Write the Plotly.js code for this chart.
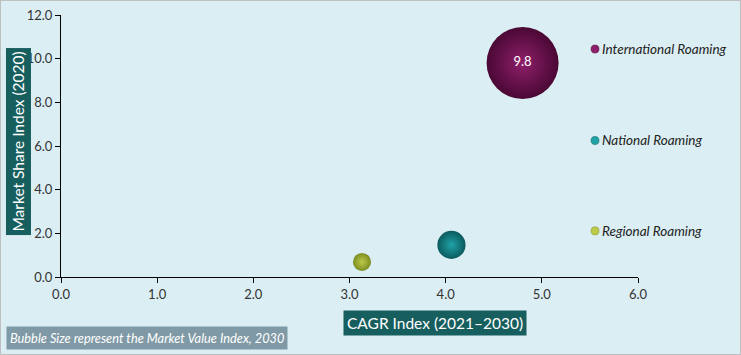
<!DOCTYPE html>
<html><head><meta charset="utf-8">
<script src="https://cdn.plot.ly/plotly-3.0.1.min.js"></script>
<style>html,body{margin:0;padding:0;background:#fff;}#wrap{width:739px;height:353px;border:1px solid #BFBFBF;}#chart{width:739px;height:353px;}</style>
</head><body><div id="wrap"><div id="chart"></div></div>
<script>
const seriesNames = ["International Roaming", "National Roaming", "Regional Roaming"];
const cagrIndex = [4.80, 4.06, 3.13];
const shareIndex = [9.8, 1.47, 0.69];
const valueIndex = [9.8, 1.5, 0.62];
const dataLabels = ["9.8", "", ""];
const colors = ["#8E1F6A", "#1FA3A6", "#BCCB4A"];
const edgeColors = ["#4A0834", "#0B5A5E", "#7C8C20"];
const xTicks = [0, 1, 2, 3, 4, 5, 6];
const yTicks = [0, 2, 4, 6, 8, 10, 12];

const FONT = "Lato, 'Liberation Sans', sans-serif";
const sizeref = 4 * 9.8 / (2 * 72 * 72);

const traces = seriesNames.map((n, i) => ({
  type: 'scatter', mode: 'markers+text', name: n,
  x: [cagrIndex[i]], y: [shareIndex[i]], text: [dataLabels[i]],
  textposition: 'middle center',
  textfont: {color: '#FFFFFF', size: 13, family: FONT},
  marker: {size: [valueIndex[i]], sizemode: 'area', sizeref: sizeref, opacity: 1,
    color: edgeColors[i], gradient: {type: 'radial', color: colors[i]},
    line: {width: 0}},
  showlegend: false, hoverinfo: 'skip'
}));

const legendY = [0.870, 0.521, 0.176];
const annotations = [];
const shapes = [];
seriesNames.forEach((n, i) => {
  annotations.push({xref: 'paper', yref: 'paper', x: 0.9335, y: legendY[i], xanchor: 'left', yanchor: 'middle',
    text: n, showarrow: false, font: {family: FONT, size: 13.5, color: '#222', style: 'italic'}});
  const cx = 0.9255, r = 4 / 577, ry = 4 / 261;
  shapes.push({type: 'circle', xref: 'paper', yref: 'paper', x0: cx - r, x1: cx + r, y0: legendY[i] - ry, y1: legendY[i] + ry,
    fillcolor: colors[i], line: {width: 0.5, color: edgeColors[i]}});
});
annotations.push({xref: 'paper', yref: 'paper', x: -0.0745, y: 0.517, xanchor: 'center', yanchor: 'middle', textangle: -90,
  text: 'Market Share Index (2020)', showarrow: false, bgcolor: '#175E5E', borderpad: 3,
  font: {family: FONT, size: 15.5, color: '#FFFFFF'}});
annotations.push({xref: 'paper', yref: 'paper', x: 0.648, y: -0.176, xanchor: 'center', yanchor: 'middle',
  text: 'CAGR Index (2021–2030)', showarrow: false, bgcolor: '#175E5E', borderpad: 3,
  font: {family: FONT, size: 15.5, color: '#FFFFFF'}});
annotations.push({xref: 'paper', yref: 'paper', x: -0.0953, y: -0.234, xanchor: 'left', yanchor: 'middle',
  text: 'Bubble Size represent the Market Value Index, 2030', showarrow: false, bgcolor: '#7F9AA6', borderpad: 3,
  font: {family: FONT, size: 12.8, color: '#FFFFFF', style: 'italic'}});

const layout = {
  width: 739, height: 353,
  margin: {l: 60, r: 102, t: 14, b: 77},
  paper_bgcolor: '#DBEEF3', plot_bgcolor: '#DBEEF3',
  xaxis: {range: [0, 6], tickvals: xTicks, tickformat: '.1f', showgrid: false, zeroline: false,
    showline: true, linecolor: '#000', linewidth: 1, ticks: 'outside', ticklen: 5, tickcolor: '#000',
    tickfont: {family: FONT, size: 13, color: '#333'}},
  yaxis: {range: [0, 12], tickvals: yTicks, tickformat: '.1f', showgrid: false, zeroline: false,
    showline: true, linecolor: '#000', linewidth: 1, ticks: 'outside', ticklen: 5, tickcolor: '#000',
    tickfont: {family: FONT, size: 13, color: '#333'}},
  annotations: annotations, shapes: shapes, showlegend: false
};
Plotly.newPlot('chart', traces, layout, {displayModeBar: false, staticPlot: true});
</script>
</body></html>
